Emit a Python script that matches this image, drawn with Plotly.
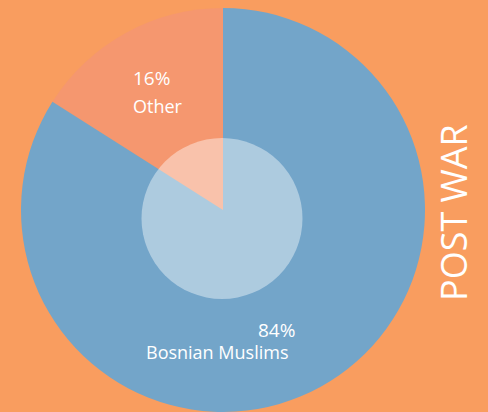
import plotly.graph_objects as go

# Data
labels = ["Other", "Bosnian Muslims"]
values = [16, 84]
colors = ["#F5976F", "#73A5C9"]
title_text = "POST WAR"

W, H = 488, 412
bg = "#F99D5F"

# pie geometry in px
cx, cy, R = 223, 210, 202

fig = go.Figure()
fig.add_trace(go.Pie(
    labels=labels, values=values, sort=False, direction="clockwise",
    rotation=-360 * values[0] / sum(values), marker=dict(colors=colors, line=dict(width=0)),
    textinfo="none", hoverinfo="label+percent", showlegend=False,
    domain=dict(x=[max(0, (cx - R) / W), min(1, (cx + R) / W)],
                y=[max(0, (H - cy - R) / H), min(1, (H - cy + R) / H)]),
))

# inner translucent disc
icx, icy, ir = 222, 218.5, 80.5
fig.add_shape(type="circle", xref="paper", yref="paper",
              x0=(icx - ir) / W, x1=(icx + ir) / W,
              y0=(H - icy - ir) / H, y1=(H - icy + ir) / H,
              fillcolor="rgba(255,255,255,0.42)", line=dict(width=0), layer="above")

font = dict(family="Open Sans", color="white", size=18)
pfont = dict(family="Open Sans", color="white", size=19)
# labels
fig.add_annotation(x=131 / W, y=(H - 78) / H, xref="paper", yref="paper",
                   text=f"{values[0]}%", showarrow=False, xanchor="left", yanchor="middle", font=pfont)
fig.add_annotation(x=131 / W, y=(H - 106) / H, xref="paper", yref="paper",
                   text=labels[0], showarrow=False, xanchor="left", yanchor="middle", font=font)
fig.add_annotation(x=297 / W, y=(H - 330) / H, xref="paper", yref="paper",
                   text=f"{values[1]}%", showarrow=False, xanchor="right", yanchor="middle", font=pfont)
fig.add_annotation(x=217 / W, y=(H - 352) / H, xref="paper", yref="paper",
                   text=labels[1], showarrow=False, xanchor="center", yanchor="middle", font=font)

fig.add_annotation(x=453 / W, y=(H - 213) / H, xref="paper", yref="paper",
                   text=title_text, showarrow=False, textangle=-90,
                   xanchor="center", yanchor="middle",
                   font=dict(family="Open Sans", color="white", size=36))

fig.update_layout(width=W, height=H, margin=dict(l=0, r=0, t=0, b=0),
                  paper_bgcolor=bg, plot_bgcolor=bg)
fig.write_html("out.html", config={"displayModeBar": False},
               post_script="document.body.style.margin='0';document.body.style.background='%s';" % bg)
